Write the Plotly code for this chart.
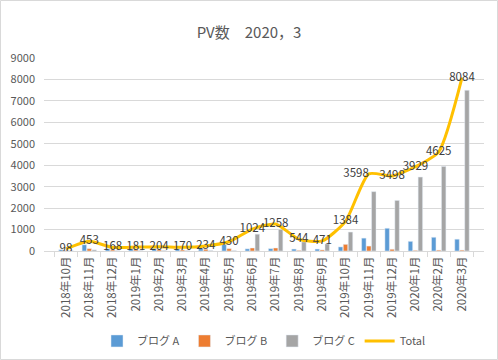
import plotly.graph_objects as go

months = ["2018年10月", "2018年11月", "2018年12月", "2019年1月", "2019年2月", "2019年3月",
          "2019年4月", "2019年5月", "2019年6月", "2019年7月", "2019年8月", "2019年9月",
          "2019年10月", "2019年11月", "2019年12月", "2020年1月", "2020年2月", "2020年3月"]
blog_a = [60, 290, 100, 110, 120, 100, 130, 300, 100, 110, 90, 90, 190, 600, 1060, 450, 640, 550]
blog_b = [25, 110, 50, 50, 60, 50, 80, 110, 140, 140, 30, 50, 310, 230, 80, 30, 40, 40]
blog_c = [13, 53, 18, 21, 24, 20, 24, 20, 784, 1008, 424, 331, 884, 2768, 2358, 3449, 3945, 7494]
total = [98, 453, 168, 181, 204, 170, 234, 430, 1024, 1258, 544, 471, 1384, 3598, 3498, 3929, 4625, 8084]

font_family = "Noto Sans CJK JP, Noto Sans, sans-serif"
txt = "#595959"

positions = ["middle center"] * len(total)
positions[13] = "middle left"

fig = go.Figure()
fig.add_trace(go.Bar(x=months, y=blog_a, name="ブログ A", marker_color="#5B9BD5"))
fig.add_trace(go.Bar(x=months, y=blog_b, name="ブログ B", marker_color="#ED7D31"))
fig.add_trace(go.Bar(x=months, y=blog_c, name="ブログ C", marker_color="#A5A5A5"))
fig.add_trace(go.Scatter(x=months, y=total, name="Total", mode="lines+text",
                         line=dict(color="#FFC000", width=3, shape="spline", smoothing=0.6),
                         text=[str(v) for v in total], textposition=positions,
                         textfont=dict(size=11.5, color="#404040", family=font_family)))

W, H = 498, 360
ml, mr, mt, mb = 44, 14, 58, 109
pw = W - ml - mr
ph = H - mt - mb

fig.update_layout(
    width=W, height=H,
    margin=dict(l=ml, r=mr, t=mt, b=mb, autoexpand=False),
    paper_bgcolor="white", plot_bgcolor="white",
    font=dict(family=font_family, color=txt, size=11),
    title=dict(text="PV数　2020，3", x=0.5, xanchor="center", y=0.908, yanchor="middle",
               font=dict(size=15, color=txt, family=font_family)),
    barmode="group", bargap=0.36, bargroupgap=0.1,
    showlegend=True,
    legend=dict(orientation="h", x=0.5, xanchor="center", y=-0.466, yanchor="middle",
                font=dict(size=11, color=txt), traceorder="normal", itemwidth=30),
    xaxis=dict(type="category", tickangle=-90, showgrid=False, automargin=False,
               showline=True, linecolor="#D9D9D9", linewidth=1,
               ticks="outside", tickson="boundaries", ticklen=5, tickcolor="#D9D9D9",
               tickfont=dict(size=11.5, color=txt)),
    yaxis=dict(range=[0, 9000], dtick=1000, showgrid=True, gridcolor="#D9D9D9",
               zeroline=False, showline=False, ticks="", tickfont=dict(size=11, color=txt),
               ticklabelstandoff=8, automargin=False),
    shapes=[dict(type="rect", xref="paper", yref="paper",
                 x0=(-ml + 0.5) / pw, x1=(pw + mr - 0.5) / pw,
                 y0=(-mb + 0.5) / ph, y1=(ph + mt - 0.5) / ph,
                 line=dict(color="#D9D9D9", width=1), layer="below")],
)

fig.write_html("out.html", config={"displayModeBar": False},
               post_script="document.body.style.margin='0';")
